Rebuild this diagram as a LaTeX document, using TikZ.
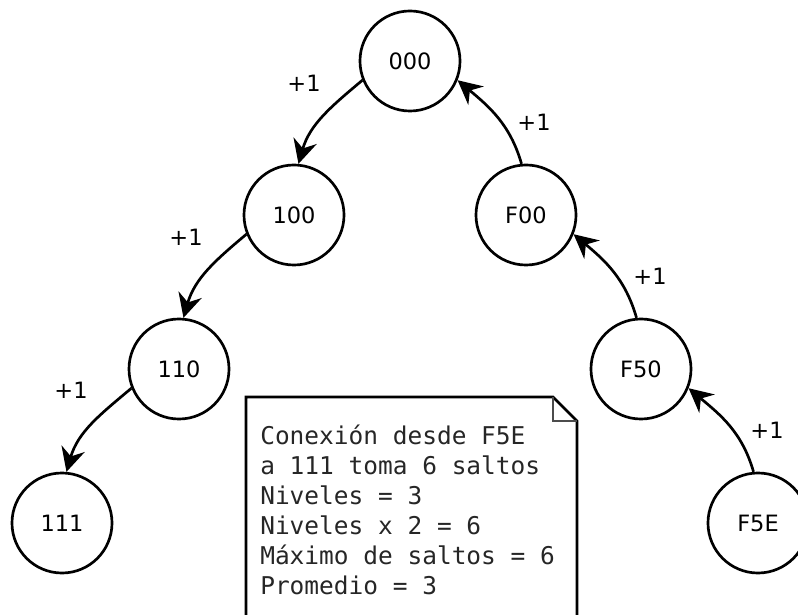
\documentclass[tikz,border=0pt]{standalone}
\usepackage{fontspec}
\setmainfont{DejaVu Sans}
\newfontfamily\monofont{DejaVu Sans Mono}
\usetikzlibrary{arrows.meta}

\tikzset{
  nodo/.style={circle,draw,line width=1.9pt,fill=white,minimum size=2.5cm,inner sep=0pt,
    font=\fontsize{16}{19}\selectfont},
  salto/.style={line width=1.9pt,-{Stealth[length=6mm,width=6mm,inset=2mm]}},
  etiqueta/.style={font=\fontsize{16}{19}\selectfont},
  nota/.style={line width=1.9pt},
}

\begin{document}
\begin{tikzpicture}[x=0.025cm,y=0.025cm]
			\useasboundingbox (0,0) rectangle (798,614);
			\clip (0,0) rectangle (798,614);
			
			% Rama izquierda
			\node[nodo] (n000) at (410,553) {000};
			\node[nodo] (n100) at (294,399) {100};
			\node[nodo] (n110) at (179,245) {110};
			\node[nodo] (n111) at (62,91) {111};
			
			% Rama derecha
			\node[nodo] (nF00) at (526,399) {F00};
			\node[nodo] (nF50) at (641,245) {F50};
			\node[nodo] (nF5E) at (758,91) {F5E};
			
			% Saltos hacia abajo
			\draw[salto] (n000.202) to[out=220,in=74] (n100.85);
			\draw[salto] (n100.202) to[out=220,in=74] (n110.85);
			\draw[salto] (n110.202) to[out=220,in=74] (n111.85);
			
			% Saltos hacia arriba
			\draw[salto] (nF5E.95) to[out=106,in=-40] (nF50.-22);
			\draw[salto] (nF50.95) to[out=106,in=-40] (nF00.-22);
			\draw[salto] (nF00.95) to[out=106,in=-40] (n000.-22);
			
			\node[etiqueta] (e1) at (304,531) {+1};
			\node[etiqueta] (e2) at (186,377) {+1};
			\node[etiqueta] (e3) at (71,224) {+1};
			\node[etiqueta] (e4) at (534,492) {+1};
			\node[etiqueta] (e5) at (650,338) {+1};
			\node[etiqueta] (e6) at (767,184) {+1};
			
			% Nota con esquina doblada
			\draw[nota] (246,-10) -- (246,217) -- (553,217) -- (577,193) -- (577,-10);
			\draw[line width=1pt,black!70] (553,217) -- (553,193) -- (577,193);
			
			\node[anchor=north west,inner sep=0pt,align=left,text=black!85,
				font=\monofont\fontsize{17.4}{21.3}\selectfont] (texto) at (260,189)
				{Conexión desde F5E\\a 111 toma 6 saltos\\Niveles = 3\\Niveles x 2 = 6\\Máximo de saltos = 6\\Promedio = 3};
	\end{tikzpicture}
\end{document}
